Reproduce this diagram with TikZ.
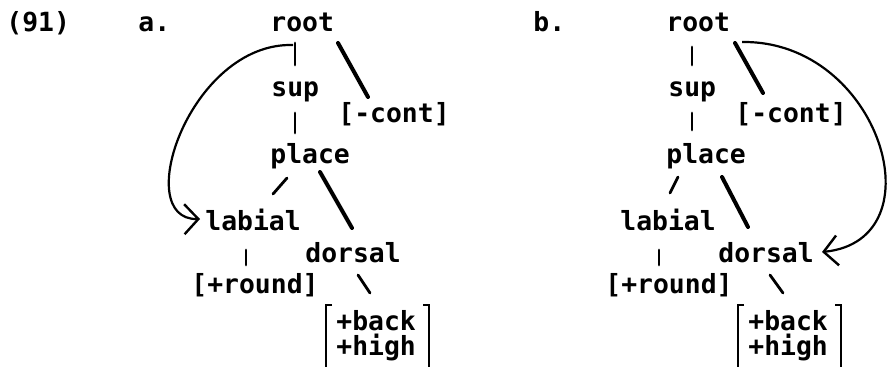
\documentclass[tikz,border=0pt]{standalone}
\usepackage{fontspec}
\setmonofont{DejaVu Sans Mono}
\usetikzlibrary{arrows.meta,calc}
\tikzset{
  lab/.style={anchor=base west,inner sep=0pt,font=\ttfamily\bfseries\fontsize{13.2}{12.5}\selectfont},
  ln/.style={line width=1.4pt,line cap=round},
  thk/.style={line width=2pt,line cap=round},
  arr/.style={line width=1.1pt,-{Straight Barb[length=7pt,width=15pt,line width=1.2pt]}},
  brk/.style={line width=1.1pt},
}

\begin{document}
\begin{tikzpicture}[x=0.5pt,y=-0.5pt]
  \fill[white] (0,0) rectangle (887,366);
  \useasboundingbox (0,0) rectangle (887,366);
  % tree a
  \node[lab] (numA) at (6,31) {(91)};
  \node[lab] (labA) at (138,31) {a.};
  \node[lab] (rootA) at (270,31) {root};
  \node[lab] (supA) at (271,96) {sup};
  \node[lab] (contA) at (338,122) {[-cont]};
  \node[lab] (placeA) at (270,163) {place};
  \node[lab] (labialA) at (205,230) {labial};
  \node[lab] (dorsalA) at (305,262) {dorsal};
  \node[lab] (roundA) at (191,293) {[+round]};
  \node[lab] (backA) at (336,330) {+back};
  \node[lab] (highA) at (336,355) {+high};
  \draw[ln] ($(rootA.base west)+(25,12)$) -- ($(supA.base west)+(24,-31)$);
  \draw[thk] ($(rootA.base west)+(68,12)$) -- ($(contA.base west)+(30,-25)$);
  \draw[ln] ($(supA.base west)+(24,17)$) -- ($(placeA.base west)+(25,-30)$);
  \draw[ln] ($(placeA.base west)+(17,15)$) -- ($(labialA.base west)+(68,-36)$);
  \draw[thk] ($(placeA.base west)+(50,9)$) -- ($(dorsalA.base west)+(47,-34)$);
  \draw[ln] ($(labialA.base west)+(41,20)$) -- ($(roundA.base west)+(55,-28)$);
  \draw[ln] ($(dorsalA.base west)+(53,13)$) -- ($(backA.base west)+(34,-37)$);
  \draw[brk] ($(backA.base west)+(-4,-25)$) -- ++(-6,0) -- ($(highA.base west)+(-10,13)$) -- ++(6,0);
  \draw[brk] ($(backA.base west)+(87,-25)$) -- ++(6,0) -- ($(highA.base west)+(93,13)$) -- ++(-6,0);
  \draw[arr] ($(rootA.base west)+(23,14)$) .. controls (190,42) and (130,220) .. ($(labialA.base west)+(-5,-11)$);
  % tree b
  \node[lab] (labB) at (533,31) {b.};
  \node[lab] (rootB) at (666,31) {root};
  \node[lab] (supB) at (668,96) {sup};
  \node[lab] (contB) at (735,122) {[-cont]};
  \node[lab] (placeB) at (666,163) {place};
  \node[lab] (labialB) at (620,230) {labial};
  \node[lab] (dorsalB) at (718,262) {dorsal};
  \node[lab] (roundB) at (605,293) {[+round]};
  \node[lab] (backB) at (748,330) {+back};
  \node[lab] (highB) at (748,355) {+high};
  \draw[ln] ($(rootB.base west)+(26,16)$) -- ($(supB.base west)+(24,-31)$);
  \draw[thk] ($(rootB.base west)+(69,12)$) -- ($(contB.base west)+(28,-29)$);
  \draw[ln] ($(supB.base west)+(24,17)$) -- ($(placeB.base west)+(26,-33)$);
  \draw[ln] ($(placeB.base west)+(12,14)$) -- ($(labialB.base west)+(50,-37)$);
  \draw[thk] ($(placeB.base west)+(56,14)$) -- ($(dorsalB.base west)+(30,-35)$);
  \draw[ln] ($(labialB.base west)+(39,20)$) -- ($(roundB.base west)+(54,-28)$);
  \draw[ln] ($(dorsalB.base west)+(52,13)$) -- ($(backB.base west)+(35,-37)$);
  \draw[brk] ($(backB.base west)+(-4,-25)$) -- ++(-6,0) -- ($(highB.base west)+(-10,13)$) -- ++(6,0);
  \draw[brk] ($(backB.base west)+(87,-25)$) -- ++(6,0) -- ($(highB.base west)+(93,13)$) -- ++(-6,0);
  \draw[arr] ($(rootB.base west)+(76,11)$) .. controls (880,40) and (940,240) .. ($(dorsalB.base west)+(104,-10)$);
\end{tikzpicture}
\end{document}
